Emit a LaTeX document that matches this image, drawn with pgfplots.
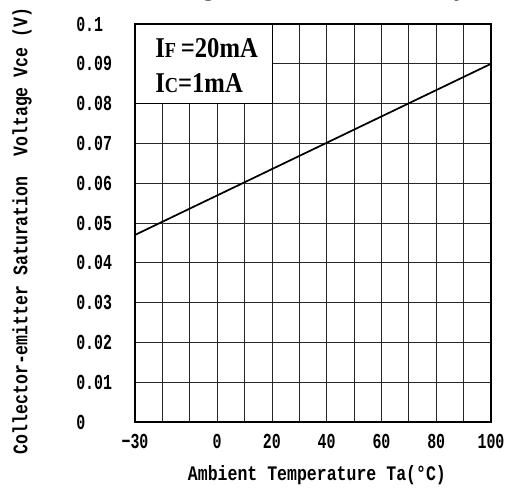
\documentclass[border=0pt]{standalone}
\usepackage{fontspec}
\usepackage{pgfplots}
\pgfplotsset{compat=1.18}
\setmainfont{Liberation Serif}
\newfontfamily\monofont[FakeStretch=0.8]{Liberation Mono}
\newfontfamily\tickfont[FakeStretch=0.7]{Liberation Mono}
\newfontfamily\legfont[FakeStretch=0.86]{Liberation Serif}
\newfontfamily\titlefont{Liberation Sans}
\begin{document}
\begin{tikzpicture}
\begin{axis}[
  name=ax,
  scale only axis,
  width=267pt, height=298.5pt,
  xmin=-30, xmax=100, ymin=0, ymax=0.1,
  xtick={-30,-20,...,100},
  xticklabels={−30,,,0,,20,,40,,60,,80,,100},
  ytick={0,0.01,...,0.1001},
  yticklabels={0,0.01,0.02,0.03,0.04,0.05,0.06,0.07,0.08,0.09,0.1},
  /pgf/number format/assume math mode=true,
  major tick length=0pt,
  grid=major,
  major grid style={black!85, line width=0.6pt},
  axis line style={black, line width=0.9pt},
  xticklabel style={font=\tickfont\bfseries\fontsize{16pt}{18pt}\selectfont, anchor=north, inner sep=0pt, yshift=-9pt},
  yticklabel style={font=\tickfont\bfseries\fontsize{16pt}{18pt}\selectfont, anchor=west, inner sep=0pt, xshift=-44.25pt},
  xlabel={Ambient Temperature Ta(°C)},
  ylabel={Collector-emitter Saturation\ \ Voltage Vce (V)},
  xlabel style={font=\monofont\bfseries\fontsize{15.5pt}{17pt}\selectfont, at={(axis description cs:0.511,-0.133)}, anchor=center},
  ylabel style={font=\monofont\bfseries\fontsize{15.5pt}{17pt}\selectfont, at={(axis description cs:-0.3174,0.48)}, anchor=center, rotate=0},
  clip=false,
]
\fill[white] (axis cs:-30,0.08) rectangle (axis cs:20,0.1);
\draw[black, line width=0.6pt] (axis cs:-30,0.08) -- (axis cs:20,0.08) -- (axis cs:20,0.1);
\draw[black, line width=0.9pt] (axis cs:-30,0) rectangle (axis cs:100,0.1);
\addplot[black, line width=1.3pt, no marks] coordinates {(-30,0.047) (100,0.09)};
\node[anchor=base west, inner sep=0pt, font=\legfont\bfseries\fontsize{21.5pt}{23pt}\selectfont] at (axis cs:-22.7,0.0917) {I{\fontsize{16pt}{18pt}\selectfont F}\,=20mA};
\node[anchor=base west, inner sep=0pt, font=\legfont\bfseries\fontsize{21.5pt}{23pt}\selectfont] at (axis cs:-22.7,0.0827) {I{\fontsize{16pt}{18pt}\selectfont C}=1mA};
\end{axis}
\node[anchor=base west, inner sep=0pt, font=\titlefont\bfseries\fontsize{20pt}{22pt}\selectfont] at ([shift={(1.5pt,21.5pt)}]ax.north west) {\llap{Collector-emitter Saturation }Voltage vs. Ambient Temperature};
\pgfresetboundingbox
\path[use as bounding box] ([shift={(-101.25pt,-50.25pt)}]ax.south west) rectangle ([shift={(11.25pt,18pt)}]ax.north east);
\end{tikzpicture}
\end{document}
